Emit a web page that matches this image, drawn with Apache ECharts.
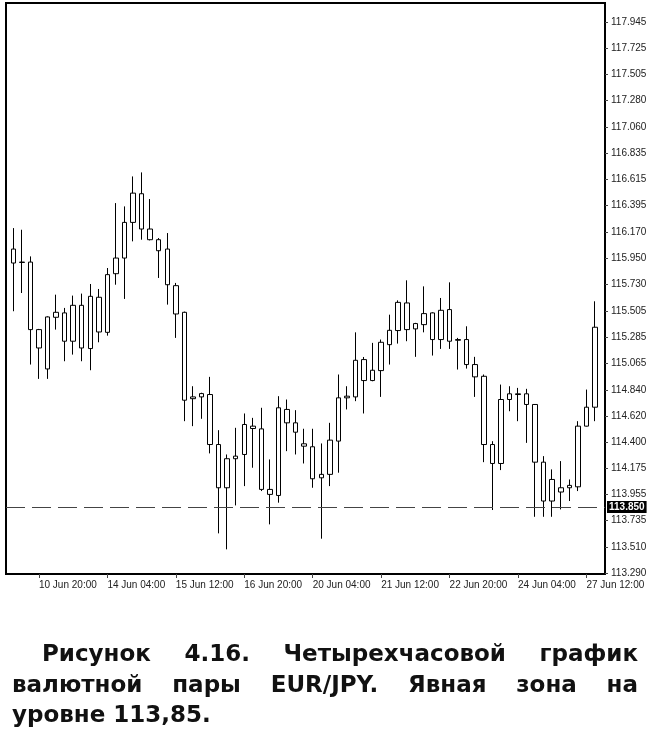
<!DOCTYPE html>
<html>
<head>
<meta charset="utf-8">
<script src="https://cdn.jsdelivr.net/npm/echarts@6/dist/echarts.min.js"></script>
<style>
  html, body { margin: 0; padding: 0; background: #fff; }
  #wrap { position: relative; width: 650px; height: 755px; overflow: hidden; }
  #chart { position: absolute; left: 0; top: 0; width: 650px; height: 755px; }
  .cap { position: absolute; font-family: "DejaVu Sans", "Liberation Sans", Arial, sans-serif; font-weight: bold;
         font-size: 23px; line-height: 23px; color: #111; white-space: normal; }
  .just { text-align: justify; text-align-last: justify; }
</style>
</head>
<body>
<div id="wrap">
  <div id="chart"></div>
  <div class="cap just" style="left:42px; width:596px; top:642px;">Рисунок 4.16. Четырехчасовой график</div>
  <div class="cap just" style="left:12px; width:626px; top:673px;">валютной пары EUR/JPY. Явная зона на</div>
  <div class="cap" style="left:12px; top:703px;">уровне 113,85.</div>
</div>
<script>
// 4-hour EUR/JPY candles, index 0 = 10 Jun 08:00
const opens  = [116.028,115.915,115.918,115.348,115.016,115.452,115.489,115.250,115.553,115.188,
                115.621,115.325,115.820,115.952,116.253,116.495,116.197,116.107,116.028,115.719,
                115.494,114.765,114.780,114.800,114.378,114.013,114.258,114.294,114.533,114.510,
                113.999,113.948,114.674,114.561,114.384,114.359,114.097,114.126,114.407,114.772,
                114.780,115.095,114.918,115.002,115.221,115.340,115.573,115.354,115.390,115.489,
                115.264,115.517,115.264,115.264,115.053,114.954,114.378,114.218,114.758,114.806,
                114.806,114.716,114.229,113.901,113.977,114.013,114.021,114.533,114.693];
const closes = [115.910,115.918,115.348,115.193,115.455,115.494,115.250,115.553,115.193,115.629,
                115.328,115.812,115.952,116.253,116.500,116.197,116.107,116.014,115.727,115.480,
                114.752,114.780,114.808,114.378,114.013,114.258,114.280,114.547,114.513,113.999,
                113.957,114.688,114.561,114.482,114.364,114.089,114.126,114.415,114.772,114.786,
                115.089,114.918,115.005,115.241,115.342,115.578,115.348,115.399,115.483,115.264,
                115.511,115.250,115.258,115.053,114.949,114.378,114.218,114.758,114.806,114.800,
                114.716,114.229,113.901,114.083,114.013,114.033,114.533,114.693,115.368];
const lows   = [115.503,115.657,115.053,114.932,114.932,115.348,115.081,115.137,115.081,115.005,
                115.241,115.297,115.727,115.607,116.093,116.107,116.101,115.784,115.559,115.278,
                114.575,114.533,114.595,114.303,113.628,113.493,113.864,114.027,114.182,113.985,
                113.704,113.887,114.322,114.294,114.218,114.013,113.583,114.027,114.140,114.674,
                114.744,114.640,114.912,114.780,115.053,115.230,115.250,115.118,115.325,115.129,
                115.185,115.185,115.011,115.019,114.780,114.229,113.825,114.162,114.659,114.575,
                114.392,113.768,113.768,113.768,113.830,113.901,113.985,114.530,114.575];
const highs  = [116.205,116.191,115.966,115.354,115.460,115.643,115.531,115.635,115.652,115.733,
                115.691,115.868,116.416,116.388,116.641,116.675,116.450,116.121,116.163,115.742,
                115.500,114.870,114.815,114.949,114.499,114.294,114.519,114.640,114.603,114.688,
                114.252,114.786,114.758,114.668,114.511,114.511,114.387,114.561,114.969,114.870,
                115.325,115.117,115.236,115.264,115.474,115.595,115.764,115.405,115.713,115.494,
                115.615,115.747,115.278,115.376,115.118,114.969,114.406,114.884,114.870,114.856,
                114.848,114.720,114.280,114.168,114.238,114.083,114.575,114.842,115.587];

const yTicks = [117.945,117.725,117.505,117.280,117.060,116.835,116.615,116.395,116.170,115.950,
                115.730,115.505,115.285,115.065,114.840,114.620,114.400,114.175,113.955,113.735,
                113.510,113.290];
const xTickIdx    = [3, 11, 19, 27, 35, 43, 51, 59, 67];
const xTickLabels = ['10 Jun 20:00','14 Jun 04:00','15 Jun 12:00','16 Jun 20:00','20 Jun 04:00',
                     '21 Jun 12:00','22 Jun 20:00','24 Jun 04:00','27 Jun 12:00'];
const zoneLevel = 113.850;

const candleData = opens.map((o, i) => [i, o, closes[i], lows[i], highs[i]]);

const chart = echarts.init(document.getElementById('chart'), null, { renderer: 'canvas' });
const axisFont = { fontFamily: 'Liberation Sans, Arial, sans-serif', fontSize: 10, color: '#222' };

chart.setOption({
  animation: false,
  backgroundColor: '#fff',
  grid: { left: 6, right: 45, top: 3, bottom: 181, show: true, borderColor: '#000', borderWidth: 2, backgroundColor: '#fff' },
  xAxis: {
    type: 'value',
    min: -0.853, max: 69.17,
    splitLine: { show: false },
    axisLine: { show: true, onZero: false, lineStyle: { color: '#000', width: 2 } },
    axisTick: { show: true, customValues: xTickIdx, length: 4, lineStyle: { color: '#444' } },
    axisLabel: Object.assign({
      customValues: xTickIdx,
      align: 'left',
      margin: 6,
      formatter: v => { const k = xTickIdx.indexOf(Math.round(v)); return k >= 0 ? xTickLabels[k] : ''; }
    }, axisFont)
  },
  yAxis: {
    type: 'value',
    position: 'right',
    min: 113.285, max: 118.105,
    scale: true,
    splitLine: { show: false },
    axisLine: { show: true, onZero: false, lineStyle: { color: '#000', width: 2 } },
    axisTick: { show: true, customValues: yTicks, length: 3, lineStyle: { color: '#444' } },
    axisLabel: Object.assign({
      customValues: yTicks,
      margin: 6,
      formatter: v => v.toFixed(3)
    }, axisFont)
  },
  series: [{
    type: 'candlestick',
    data: candleData,
    barWidth: 5,
    itemStyle: { color: '#fff', color0: '#fff', borderColor: '#000', borderColor0: '#000', borderWidth: 1 },
    markLine: {
      silent: true,
      symbol: ['none', 'none'],
      lineStyle: { color: '#444', width: 1, type: [19, 7] },
      label: {
        show: true, position: 'end', distance: 2,
        formatter: () => zoneLevel.toFixed(3),
        backgroundColor: '#000', color: '#fff', padding: [1, 2],
        fontFamily: 'Liberation Sans, Arial, sans-serif', fontSize: 10, fontWeight: 'bold'
      },
      data: [{ yAxis: zoneLevel }]
    }
  }]
});
</script>
</body>
</html>
